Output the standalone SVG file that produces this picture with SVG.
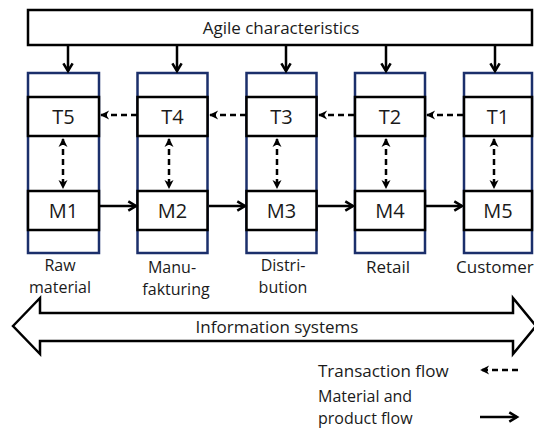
<svg xmlns="http://www.w3.org/2000/svg" width="534" height="430" viewBox="0 0 534 430">
<defs>
<style>
.txt{font-family:"Open Sans","Liberation Sans",Arial,sans-serif;fill:#1a1a1a}
.lbl{font-size:17px;text-anchor:middle}
.two{font-size:16px;text-anchor:middle}
.big{font-size:20px;text-anchor:middle}
.col{fill:#fff;stroke:#1b2f6b;stroke-width:2.5}
.box{fill:#fff;stroke:#000;stroke-width:2.5}
.sol{fill:none;stroke:#000;stroke-width:2.5}
.dash{fill:none;stroke:#000;stroke-width:2.5;stroke-dasharray:6 4}
</style>
<marker id="ah" viewBox="0 0 10 10" refX="9" refY="5" markerWidth="11" markerHeight="11" markerUnits="userSpaceOnUse" orient="auto-start-reverse" overflow="visible">
<polyline points="2,0.8 9,5 2,9.2" fill="none" stroke="#000" stroke-width="2.3"/>
</marker>
<marker id="dh" viewBox="0 0 10 10" refX="9" refY="5" markerWidth="9" markerHeight="9" markerUnits="userSpaceOnUse" orient="auto-start-reverse" overflow="visible">
<path d="M0,0 L10,5 L0,10 L3,5 Z" fill="#000"/>
</marker>
</defs>
<rect width="534" height="430" fill="#fff"/>
<g id="agile">
<rect x="28" y="10" width="504" height="35" class="box"/>
<text x="281" y="34" class="txt lbl">Agile characteristics</text>
</g>
<g id="col1">
<rect x="28" y="73" width="71" height="180" class="col"/>
<rect x="28" y="97" width="71" height="39" class="box"/>
<text x="63.5" y="124" class="txt big">T5</text>
<rect x="28" y="191" width="71" height="39" class="box"/>
<text x="63.5" y="218" class="txt big">M1</text>
<text x="60" y="271" class="txt two">Raw</text>
<text x="60" y="293" class="txt two">material</text>
</g>
<g id="col2">
<rect x="137.5" y="73" width="70" height="180" class="col"/>
<rect x="137.5" y="97" width="70" height="39" class="box"/>
<text x="172.5" y="124" class="txt big">T4</text>
<rect x="137.5" y="191" width="70" height="39" class="box"/>
<text x="172.5" y="218" class="txt big">M2</text>
<text x="172" y="273" class="txt two">Manu-</text>
<text x="176" y="295" class="txt two">fakturing</text>
</g>
<g id="col3">
<rect x="246.5" y="73" width="70" height="180" class="col"/>
<rect x="246.5" y="97" width="70" height="39" class="box"/>
<text x="281.5" y="124" class="txt big">T3</text>
<rect x="246.5" y="191" width="70" height="39" class="box"/>
<text x="281.5" y="218" class="txt big">M3</text>
<text x="283" y="271" class="txt two">Distri-</text>
<text x="283" y="293" class="txt two">bution</text>
</g>
<g id="col4">
<rect x="355" y="73" width="70" height="180" class="col"/>
<rect x="355" y="97" width="70" height="39" class="box"/>
<text x="390" y="124" class="txt big">T2</text>
<rect x="355" y="191" width="70" height="39" class="box"/>
<text x="390" y="218" class="txt big">M4</text>
<text x="388" y="273" class="txt lbl">Retail</text>
</g>
<g id="col5">
<rect x="464" y="73" width="68" height="180" class="col"/>
<rect x="464" y="97" width="68" height="39" class="box"/>
<text x="498" y="124" class="txt big">T1</text>
<rect x="464" y="191" width="68" height="39" class="box"/>
<text x="498" y="218" class="txt big">M5</text>
<text x="456" y="273" class="txt lbl" style="text-anchor:start">Customer</text>
</g>
<g id="infosys">
<path d="M13,326 L40,298 L40,313 L513,313 L513,298 L536,326 L513,354 L513,341 L40,341 L40,354 Z" fill="#fff" stroke="#000" stroke-width="2.5" stroke-linejoin="miter"/>
<text x="277" y="333" class="txt lbl">Information systems</text>
</g>
<g id="legend">
<text x="318" y="377" class="txt lbl" style="text-anchor:start">Transaction flow</text>
<text x="318" y="402" class="txt two" style="text-anchor:start">Material and</text>
<text x="318" y="424" class="txt two" style="text-anchor:start">product flow</text>
</g>
<g id="connectors">
<line x1="68" y1="46" x2="68" y2="71" class="sol" marker-end="url(#ah)"/>
<line x1="177" y1="46" x2="177" y2="71" class="sol" marker-end="url(#ah)"/>
<line x1="286" y1="46" x2="286" y2="71" class="sol" marker-end="url(#ah)"/>
<line x1="386" y1="46" x2="386" y2="71" class="sol" marker-end="url(#ah)"/>
<line x1="495" y1="46" x2="495" y2="71" class="sol" marker-end="url(#ah)"/>
<line x1="137" y1="115" x2="101" y2="115" class="dash" marker-end="url(#dh)"/>
<line x1="246" y1="115" x2="210" y2="115" class="dash" marker-end="url(#dh)"/>
<line x1="354" y1="115" x2="319" y2="115" class="dash" marker-end="url(#dh)"/>
<line x1="463" y1="115" x2="427" y2="115" class="dash" marker-end="url(#dh)"/>
<line x1="63" y1="139" x2="63" y2="188" class="dash" marker-start="url(#dh)" marker-end="url(#dh)"/>
<line x1="169" y1="139" x2="169" y2="188" class="dash" marker-start="url(#dh)" marker-end="url(#dh)"/>
<line x1="277" y1="139" x2="277" y2="188" class="dash" marker-start="url(#dh)" marker-end="url(#dh)"/>
<line x1="386" y1="139" x2="386" y2="188" class="dash" marker-start="url(#dh)" marker-end="url(#dh)"/>
<line x1="494" y1="139" x2="494" y2="188" class="dash" marker-start="url(#dh)" marker-end="url(#dh)"/>
<line x1="100" y1="206" x2="136" y2="206" class="sol" marker-end="url(#ah)"/>
<line x1="209" y1="206" x2="245" y2="206" class="sol" marker-end="url(#ah)"/>
<line x1="318" y1="206" x2="353" y2="206" class="sol" marker-end="url(#ah)"/>
<line x1="426" y1="206" x2="462" y2="206" class="sol" marker-end="url(#ah)"/>
<line x1="518" y1="370" x2="481" y2="370" class="dash" marker-end="url(#dh)"/>
<line x1="480" y1="417" x2="517" y2="417" class="sol" marker-end="url(#ah)"/>
</g>
</svg>
